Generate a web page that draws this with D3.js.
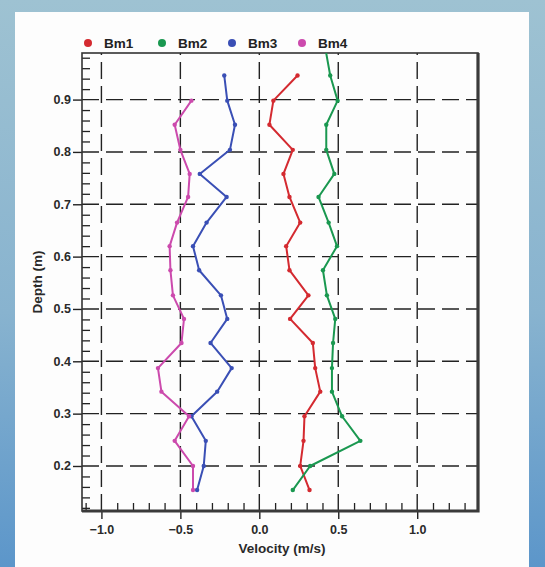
<!DOCTYPE html>
<html>
<head>
<meta charset="utf-8">
<script src="https://cdn.jsdelivr.net/npm/d3@7"></script>
<style>
  html, body { margin: 0; padding: 0; }
  body {
    width: 545px; height: 567px; overflow: hidden;
    background: linear-gradient(180deg, #9ec2d2 0%, #88b3cf 55%, #5c96ca 100%);
  }
  svg { display: block; }
  text { font-family: "Liberation Sans", Arial, sans-serif; font-weight: bold; }
  .domain { display: none; }
</style>
</head>
<body>
<svg id="chart" width="545" height="567"></svg>
<script>
// depth levels (m), shared by every profile; null = no reading at that level
const depths = [0.995, 0.946, 0.898, 0.852, 0.804, 0.758, 0.714, 0.665, 0.620, 0.574,
                0.526, 0.481, 0.435, 0.387, 0.342, 0.295, 0.248, 0.200, 0.154];

const seriesNames = ["Bm1", "Bm2", "Bm3", "Bm4"];
const seriesColors = ["#d42a30", "#1a9850", "#3a4fb5", "#cc4aad"];

// velocity (m/s) at each depth
const velBm1 = [null, 0.242, 0.089, 0.064, 0.212, 0.153, 0.191, 0.259, 0.170, 0.191,
                0.311, 0.195, 0.339, 0.354, 0.386, 0.286, 0.280, 0.259, 0.318];
const velBm2 = [0.420, 0.449, 0.496, 0.424, 0.424, 0.475, 0.375, 0.439, 0.492, 0.403,
                0.428, 0.481, 0.467, 0.460, 0.460, 0.524, 0.640, 0.322, 0.212];
const velBm3 = [null, -0.222, -0.203, -0.154, -0.186, -0.377, -0.207, -0.334, -0.420, -0.381,
                -0.243, -0.203, -0.309, -0.175, -0.267, -0.430, -0.339, -0.352, -0.394];
const velBm4 = [null, null, -0.430, -0.536, -0.500, -0.441, -0.451, -0.521, -0.568, -0.563,
                -0.547, -0.477, -0.493, -0.642, -0.620, -0.445, -0.536, -0.420, -0.420];

const xTicks = [-1.0, -0.5, 0.0, 0.5, 1.0];
const yTicks = [0.2, 0.3, 0.4, 0.5, 0.6, 0.7, 0.8, 0.9];

const velocities = [velBm1, velBm2, velBm3, velBm4];

const svg = d3.select("#chart");

// white panel
svg.append("rect")
    .attr("x", 15).attr("y", 12)
    .attr("width", 514).attr("height", 560)
    .attr("fill", "#fdfdfd");

const pLeft = 82, pTop = 53, pRight = 478, pBottom = 511;

const x = d3.scaleLinear().domain([-1.123, 1.385]).range([pLeft, pRight]);
const y = d3.scaleLinear().domain([0.114, 0.989]).range([pBottom, pTop]);

const xMinor = d3.range(-11, 14).filter(d => d % 5 !== 0).map(d => d / 10);
const yMinor = d3.range(12, 99, 2).filter(d => d % 10 !== 0).map(d => d / 100);

// dashed grid
const grid = svg.append("g").attr("stroke", "#222").attr("stroke-width", 1.4)
    .attr("stroke-dasharray", "17,7");
grid.selectAll(".gx").data(xTicks).enter().append("line")
    .attr("x1", d => x(d)).attr("x2", d => x(d))
    .attr("y1", pBottom).attr("y2", pTop);
grid.selectAll(".gy").data(yTicks).enter().append("line")
    .attr("x1", pLeft).attr("x2", pRight)
    .attr("y1", d => y(d)).attr("y2", d => y(d));

// minor ticks (inside)
svg.append("g").attr("transform", `translate(0,${pBottom})`)
    .call(d3.axisTop(x).tickValues(xMinor).tickSize(8).tickFormat(""))
    .selectAll("line").attr("stroke", "#222").attr("stroke-width", 1.3);
svg.append("g").attr("transform", `translate(${pLeft},0)`)
    .call(d3.axisRight(y).tickValues(yMinor).tickSize(8).tickFormat(""))
    .selectAll("line").attr("stroke", "#222").attr("stroke-width", 1.3);

// major ticks + labels (outside)
const xAx = svg.append("g").attr("transform", `translate(0,${pBottom})`)
    .call(d3.axisBottom(x).tickValues(xTicks).tickSize(8).tickPadding(6).tickFormat(d3.format(".1f")));
xAx.selectAll("line").attr("stroke", "#222").attr("stroke-width", 1.4);
xAx.selectAll("text").attr("font-size", 12.5).attr("fill", "#2a2a2a");

const yAx = svg.append("g").attr("transform", `translate(${pLeft},0)`)
    .call(d3.axisLeft(y).tickValues(yTicks).tickSize(9).tickPadding(2).tickFormat(d3.format(".1f")));
yAx.selectAll("line").attr("stroke", "#222").attr("stroke-width", 1.4);
yAx.selectAll("text").attr("font-size", 12.5).attr("fill", "#2a2a2a");

// frame: thin top/left, heavy right/bottom
svg.append("rect").attr("x", pLeft).attr("y", pTop)
    .attr("width", pRight - pLeft).attr("height", pBottom - pTop)
    .attr("fill", "none").attr("stroke", "#333").attr("stroke-width", 1.6);
svg.append("path")
    .attr("d", `M${pRight},${pTop} L${pRight},${pBottom} L${pLeft},${pBottom}`)
    .attr("fill", "none").attr("stroke", "#3a3a3a").attr("stroke-width", 3.2);

// data
svg.append("defs").append("clipPath").attr("id", "plotClip")
    .append("rect").attr("x", pLeft).attr("y", pTop)
    .attr("width", pRight - pLeft).attr("height", pBottom - pTop);

const line = d3.line()
    .defined(d => d.v != null)
    .x(d => x(d.v))
    .y(d => y(d.depth));

const plot = svg.append("g").attr("clip-path", "url(#plotClip)");
velocities.forEach((vals, i) => {
    const pts = depths.map((depth, j) => ({ depth: depth, v: vals[j] }));
    plot.append("path")
        .datum(pts)
        .attr("d", line)
        .attr("fill", "none")
        .attr("stroke", seriesColors[i])
        .attr("stroke-width", 2)
        .attr("stroke-linejoin", "round");
    plot.selectAll(".dot" + i)
        .data(pts.filter(d => d.v != null))
        .enter().append("circle")
        .attr("cx", d => x(d.v))
        .attr("cy", d => y(d.depth))
        .attr("r", 2.2)
        .attr("fill", seriesColors[i]);
});

// legend
const legendX = [88, 162, 232, 302];
const legend = svg.append("g");
seriesNames.forEach((name, i) => {
    legend.append("circle")
        .attr("cx", legendX[i]).attr("cy", 43).attr("r", 4)
        .attr("fill", seriesColors[i]);
    legend.append("text")
        .attr("x", legendX[i] + 16).attr("y", 48)
        .attr("font-size", 13.5).attr("fill", "#222")
        .text(name);
});

// axis titles
svg.append("text")
    .attr("x", (pLeft + pRight) / 2 + 2).attr("y", 553)
    .attr("text-anchor", "middle").attr("font-size", 13.5).attr("fill", "#2a2a2a")
    .text("Velocity (m/s)");
svg.append("text")
    .attr("transform", `translate(42,${(pTop + pBottom) / 2}) rotate(-90)`)
    .attr("text-anchor", "middle").attr("font-size", 13.5).attr("fill", "#2a2a2a")
    .text("Depth (m)");
</script>
</body>
</html>
